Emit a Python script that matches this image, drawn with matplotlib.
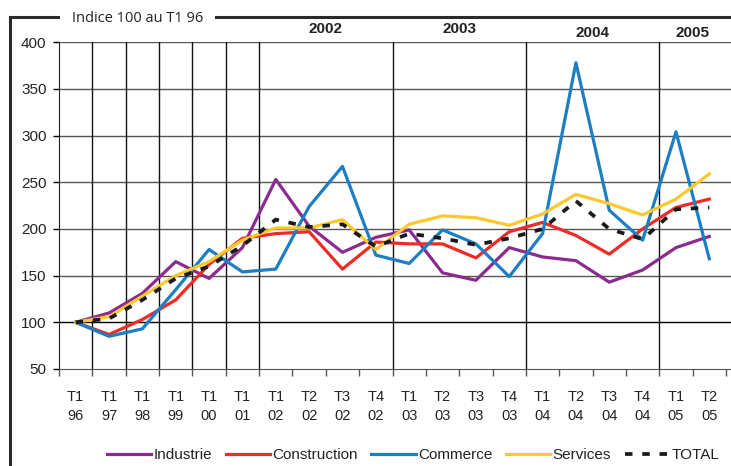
import matplotlib.pyplot as plt
from matplotlib.lines import Line2D

plt.rcParams['font.family'] = ['Liberation Sans', 'DejaVu Sans']

# quarters (tick labels)
periods = ["T1\n96", "T1\n97", "T1\n98", "T1\n99", "T1\n00", "T1\n01", "T1\n02",
           "T2\n02", "T3\n02", "T4\n02", "T1\n03", "T2\n03", "T3\n03", "T4\n03",
           "T1\n04", "T2\n04", "T3\n04", "T4\n04", "T1\n05", "T2\n05"]

industrie = [100, 110, 131, 165, 147, 180, 253, 203, 175, 191, 199, 153, 145, 180,
             170, 166, 143, 156, 180, 192]
construction = [100, 87, 103, 124, 162, 190, 195, 197, 157, 186, 184, 184, 169, 197,
                207, 193, 173, 200, 223, 232]
commerce = [100, 85, 93, 135, 178, 154, 157, 224, 267, 172, 163, 199, 184, 149,
            195, 378, 220, 188, 304, 168]
services = [100, 106, 128, 150, 165, 188, 201, 201, 210, 178, 205, 214, 212, 204,
            216, 237, 227, 215, 232, 259]
total = [100, 104, 124, 147, 160, 182, 210, 202, 205, 181, 195, 190, 183, 190,
         200, 230, 200, 189, 221, 223]

years = ["2002", "2003", "2004", "2005"]
year_centers = [7.5, 11.5, 15.5, 18.5]
year_heights = [29, 29, 33, 33]  # pixels from top
year_lines = [0.5, 1.5, 2.5, 3.5, 4.5, 5.5, 9.5, 13.5, 17.5]

W, H = 731, 466
fig = plt.figure(figsize=(W / 100, H / 100), dpi=100)
ax = fig.add_axes([59 / W, 1 - 369 / H, (731 - 59) / W, (369 - 42.2) / H])

x = list(range(len(periods)))
lw = 2.3
ax.plot(x, industrie, color="#8C2B8F", lw=lw, label="Industrie")
ax.plot(x, construction, color="#EE2B25", lw=lw, label="Construction")
ax.plot(x, commerce, color="#1C7EC3", lw=lw, label="Commerce")
ax.plot(x, services, color="#FCC82A", lw=lw, label="Services")
ax.plot(x, total, color="#1a1a1a", lw=lw + 0.4, dashes=(2, 2.6), label="TOTAL")

ax.set_xlim(-0.5, (731 - 59) / 33.35 - 0.5)
ax.set_ylim(50, 400)

# grid
for v in range(100, 401, 50):
    ax.axhline(v, color="#000000" if v == 100 else "#555555", lw=1.0, zorder=0)
for xv in year_lines:
    ax.axvline(xv, color="#111111", lw=1.0, zorder=0)

ax.set_xticks([i - 0.5 for i in range(21)])
ax.set_xticklabels([])
ax.set_xticks(x, minor=True)
ax.set_xticklabels(periods, minor=True, fontsize=10.5, color="#222222", linespacing=1.45)
ax.tick_params(axis="x", which="minor", length=0, pad=15)
ax.tick_params(axis="x", which="major", length=5, width=1, color="#555555")
ax.set_yticks(range(50, 401, 50))
ax.tick_params(axis="y", length=4, width=1, labelsize=11, pad=5, labelcolor="#222222")

for s in ["top", "right"]:
    ax.spines[s].set_visible(False)
ax.spines["left"].set_color("#222222")
ax.spines["bottom"].set_color("#555555")

for lab, xc, yp in zip(years, year_centers, year_heights):
    ax.text(xc, 400 + (42.2 - yp) / 0.934, lab, ha="center", va="center",
            fontsize=11, fontweight="bold", color="#222222")

# frame around chart with title breaking the top border
fc = "#2a2a2a"
fig.add_artist(Line2D([10 / W, 10 / W], [1 - 17 / H, 0], transform=fig.transFigure,
                      color=fc, lw=2.2))
fig.add_artist(Line2D([10 / W, 58 / W], [1 - 17 / H, 1 - 17 / H], transform=fig.transFigure,
                      color=fc, lw=2.2))
fig.add_artist(Line2D([216 / W, 1], [1 - 17 / H, 1 - 17 / H], transform=fig.transFigure,
                      color=fc, lw=2.2))
fig.text(72 / W, 1 - 18 / H, "Indice 100 au T1 96", fontsize=10.5, color="#222222",
         family=["Open Sans", "DejaVu Sans"], va="center", ha="left")

fig.legend(loc="center", bbox_to_anchor=(413 / W, 1 - 455 / H), ncol=5, frameon=False,
           fontsize=11, handlelength=2.9, handletextpad=0.15, columnspacing=0.9,
           labelcolor="#222222")

fig.savefig("out.png", dpi=100)
